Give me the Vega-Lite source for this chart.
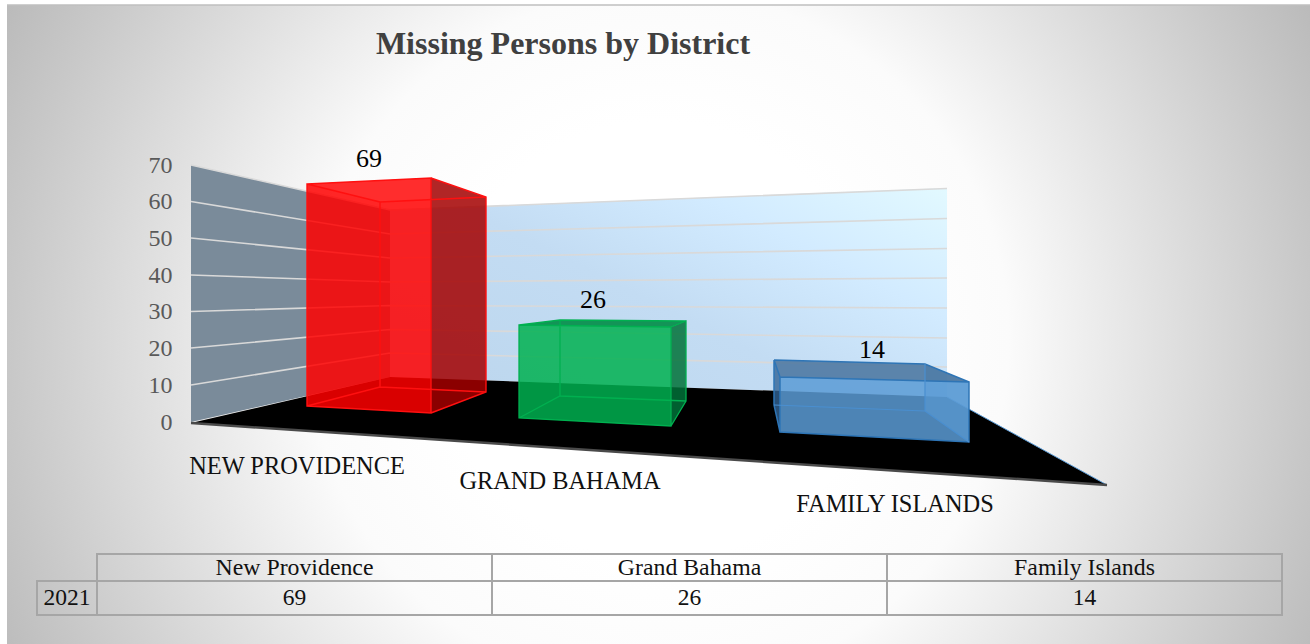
{
"$schema":"https://vega.github.io/schema/vega-lite/v6.json",
"width":1310,"height":644,"padding":0,"autosize":{"type":"none"},
"background":"#ffffff",
"view":{"stroke":null},
"config":{"font":"Liberation Serif","style":{"guide-label":{"font":"Liberation Serif"}}},
"datasets":{
"districts":[
{"district":"New Providence","label":"NEW PROVIDENCE","value":69,"year":"2021"},
{"district":"Grand Bahama","label":"GRAND BAHAMA","value":26,"year":"2021"},
{"district":"Family Islands","label":"FAMILY ISLANDS","value":14,"year":"2021"}],
"frame":[{"element":"chart frame","title":"Missing Persons by District"}],
"stub":[{"year":"2021"}]
},
"resolve":{"scale":{"x":"independent","y":"independent"},"axis":{"x":"independent","y":"independent"}},
"layer":[
{"data":{"name":"frame"},
"encoding":{
"x":{"datum":0,"type":"quantitative","scale":{"domain":[0,1],"range":[191,1107]},"axis":null},
"y":{"datum":0,"type":"quantitative","scale":{"domain":[0,70],"range":[422,165],"nice":false},
"axis":{"title":null,"values":[0,10,20,30,40,50,60,70],"orient":"left","offset":-172,"labelPadding":0,"ticks":false,"domain":false,"grid":false,"labelFontSize":24,"labelColor":"#595959","labelFont":"Liberation Serif","zindex":1}}},
"layer":[
{"mark":{"type":"point","size":4,"opacity":1,"filled":true,"shape":"M-184,-733H1119V570H-184Z","fill":{"gradient":"radial","x1":0.5,"y1":0.5,"r1":0,"x2":0.5,"y2":0.5,"r2":0.56,"stops":[{"offset":0,"color":"#ffffff"},{"offset":0.3,"color":"#ffffff"},{"offset":0.48,"color":"#fbfbfb"},{"offset":0.68,"color":"#e2e2e2"},{"offset":0.89,"color":"#c8c8c8"},{"offset":1,"color":"#bbbbbb"}]}}},
{"mark":{"type":"point","size":4,"opacity":1,"filled":true,"shape":"M-191,-432H1119V-417H-191Z","fill":"#ffffff"}},
{"mark":{"type":"point","size":4,"opacity":1,"filled":false,"shape":"M-184,-417H1119","stroke":"#bfbfbf","strokeWidth":1.5}},
{"mark":{"type":"point","size":4,"opacity":1,"filled":true,"shape":"M0,-257L199,-212L199,-45L0,0Z","fill":"#7a8b9a"}},
{"mark":{"type":"point","size":4,"opacity":1,"filled":true,"shape":"M199,-212L756,-234L756,-25L199,-45Z","fill":{"gradient":"linear","x1":0,"y1":0.75,"x2":1,"y2":0,"stops":[{"offset":0,"color":"#bdd7ee"},{"offset":0.4,"color":"#c3dcf3"},{"offset":0.7,"color":"#d2ebff"},{"offset":1,"color":"#e2f9ff"}]}}},
{"mark":{"type":"point","size":4,"opacity":1,"filled":false,"strokeWidth":1.6,"stroke":"#d9d9d9","shape":"M0,-257L199,-212M0,-220.5L199,-188M0,-184L199,-164M0,-147L199,-140M0,-110.5L199,-116.5M0,-74L199,-92.5M0,-37L199,-69M199,-212L756,-233.5M199,-188L756,-203.5M199,-164L756,-173.5M199,-140L756,-144M199,-116.5L756,-114M199,-92.5L756,-84M199,-69L756,-55"}},
{"mark":{"type":"point","size":4,"opacity":1,"filled":true,"shape":"M0,1L199,-45L756,-25L916,63Z","fill":"#000000"}},
{"mark":{"type":"point","size":4,"opacity":1,"filled":false,"shape":"M756,-25L916,63","stroke":"#5b9bd5","strokeWidth":1}},
{"mark":{"type":"point","size":4,"opacity":1,"filled":false,"shape":"M0,1L916,63","stroke":"#4a4a4a","strokeWidth":2.5}},
{"mark":{"type":"text","dx":372,"dy":-378,"fontSize":32,"fontWeight":"bold","font":"Liberation Serif","color":"#404040"},"encoding":{"text":{"field":"title","type":"nominal"}}}
]},
{"data":{"name":"districts"},"transform":[{"filter":"datum.district==='New Providence'"}],
"encoding":{
"x":{"field":"district","type":"nominal","scale":{"type":"band","domain":["New Providence"],"range":[307,431],"paddingInner":0,"paddingOuter":0},"axis":null},
"y":{"field":"value","type":"quantitative","scale":{"domain":[0,70],"range":[406,180.8],"nice":false},"axis":null}},
"layer":[
{"mark":{"type":"point","size":4,"opacity":1,"filled":true,"shape":"M62,-6L117,13L117,208L62,229Z","fill":"rgba(163,0,0,0.85)"}},
{"mark":{"type":"bar","fill":"rgba(255,0,0,0.85)"}},
{"mark":{"type":"point","size":4,"opacity":1,"filled":true,"shape":"M-62,0L62,-6L62,0ZM-62,222L62,222L62,229Z","fill":"rgba(255,0,0,0.85)"}},
{"mark":{"type":"point","size":4,"opacity":1,"filled":true,"shape":"M-62,0L62,-6L62,15.6L11,18Z","fill":"rgba(255,50,50,0.6)"}},
{"mark":{"type":"point","size":4,"opacity":1,"filled":false,"stroke":"#ff1010","strokeWidth":1.4,"shape":"M-62,0L62,-6L62,229L-62,222ZM62,-6L117,13L117,208L62,229M-62,0L11,18L117,13M11,18L11,203M-62,222L11,203L117,208"}},
{"mark":{"type":"text","dy":-25,"fontSize":26,"font":"Liberation Serif","color":"#000000"},"encoding":{"text":{"field":"value","type":"quantitative"}}},
{"mark":{"type":"text","dx":-72,"dy":61,"fontSize":24.4,"font":"Liberation Serif","color":"#111111"},"encoding":{"y":{"datum":0,"type":"quantitative"},"text":{"field":"label","type":"nominal"}}}
]},
{"data":{"name":"districts"},"transform":[{"filter":"datum.district==='Grand Bahama'"}],
"encoding":{
"x":{"field":"district","type":"nominal","scale":{"type":"band","domain":["Grand Bahama"],"range":[519,671],"paddingInner":0,"paddingOuter":0},"axis":null},
"y":{"field":"value","type":"quantitative","scale":{"domain":[0,70],"range":[418,173],"nice":false},"axis":null}},
"layer":[
{"mark":{"type":"point","size":4,"opacity":1,"filled":true,"shape":"M76,0L91,-6L91,74L76,99Z","fill":"rgba(0,113,56,0.85)"}},
{"mark":{"type":"bar","fill":"rgba(0,176,80,0.85)"}},
{"mark":{"type":"point","size":4,"opacity":1,"filled":true,"shape":"M-76,-2L76,0L-76,0ZM-76,91L76,91L76,99Z","fill":"rgba(0,176,80,0.85)"}},
{"mark":{"type":"point","size":4,"opacity":1,"filled":true,"shape":"M-76,-2L-35,-7L91,-6L76,0Z","fill":"rgba(0,140,70,0.9)"}},
{"mark":{"type":"point","size":4,"opacity":1,"filled":false,"stroke":"#00b050","strokeWidth":1.3,"shape":"M-76,-2L76,0L76,99L-76,91ZM76,0L91,-6L91,74L76,99M-76,-2L-35,-7L91,-6M-35,-7L-35,69M-76,91L-35,69L91,74"}},
{"mark":{"type":"text","dx":-2,"dy":-27,"fontSize":26,"font":"Liberation Serif","color":"#000000"},"encoding":{"text":{"field":"value","type":"quantitative"}}},
{"mark":{"type":"text","dx":-35,"dy":64,"fontSize":24.4,"font":"Liberation Serif","color":"#111111"},"encoding":{"y":{"datum":0,"type":"quantitative"},"text":{"field":"label","type":"nominal"}}}
]},
{"data":{"name":"districts"},"transform":[{"filter":"datum.district==='Family Islands'"}],
"encoding":{
"x":{"field":"district","type":"nominal","scale":{"type":"band","domain":["Family Islands"],"range":[780,969],"paddingInner":0,"paddingOuter":0},"axis":null},
"y":{"field":"value","type":"quantitative","scale":{"domain":[0,70],"range":[432,182],"nice":false},"axis":null}},
"layer":[
{"mark":{"type":"point","size":4,"opacity":1,"filled":true,"shape":"M-100.5,-22L-94.5,-5L-94.5,50L-100.5,23Z","fill":"rgba(50,100,150,0.8)"}},
{"mark":{"type":"point","size":4,"opacity":1,"filled":true,"shape":"M50.5,-18L94.5,0L94.5,60L50.5,29Z","fill":"rgba(91,155,213,0.6)"}},
{"mark":{"type":"bar","fill":"rgba(91,155,213,0.85)"}},
{"mark":{"type":"point","size":4,"opacity":1,"filled":true,"shape":"M-94.5,-5L94.5,0L-94.5,0ZM-94.5,50L94.5,50L94.5,60Z","fill":"rgba(91,155,213,0.85)"}},
{"mark":{"type":"point","size":4,"opacity":1,"filled":true,"shape":"M-100.5,-22L50.5,-18L94.5,0L-94.5,-5Z","fill":"rgba(72,115,157,0.85)"}},
{"mark":{"type":"point","size":4,"opacity":1,"filled":false,"stroke":"#2e75b6","strokeWidth":1.5,"shape":"M-94.5,-5L94.5,0L94.5,60L-94.5,50ZM-100.5,-22L50.5,-18L94.5,0M-100.5,-22L-94.5,-5M-100.5,-22L-100.5,23L-94.5,50"}},
{"mark":{"type":"point","size":4,"opacity":1,"filled":false,"stroke":"#4a8fd0","strokeWidth":1.2,"shape":"M50.5,-18L50.5,29M-100.5,23L50.5,29L94.5,60"}},
{"mark":{"type":"text","dx":-2.5,"dy":-32,"fontSize":26,"font":"Liberation Serif","color":"#000000"},"encoding":{"text":{"field":"value","type":"quantitative"}}},
{"mark":{"type":"text","dx":20.5,"dy":73,"fontSize":24.4,"font":"Liberation Serif","color":"#111111"},"encoding":{"y":{"datum":0,"type":"quantitative"},"text":{"field":"label","type":"nominal"}}}
]},
{"data":{"name":"districts"},
"encoding":{
"x":{"field":"district","type":"nominal","scale":{"type":"band","domain":["New Providence","Grand Bahama","Family Islands"],"range":[97,1282],"paddingInner":0,"paddingOuter":0},"axis":null},
"y":{"datum":"District","type":"nominal","scale":{"type":"band","domain":["District"],"range":[554,581],"paddingInner":0,"paddingOuter":0},"axis":null}},
"layer":[
{"mark":{"type":"rect","fill":"transparent","stroke":"#a6a6a6","strokeWidth":2}},
{"mark":{"type":"text","fontSize":23.8,"font":"Liberation Serif","color":"#111111"},"encoding":{"text":{"field":"district","type":"nominal"}}}
]},
{"data":{"name":"districts"},
"encoding":{
"x":{"field":"district","type":"nominal","scale":{"type":"band","domain":["New Providence","Grand Bahama","Family Islands"],"range":[97,1282],"paddingInner":0,"paddingOuter":0},"axis":null},
"y":{"field":"year","type":"nominal","scale":{"type":"band","domain":["2021"],"range":[581,615],"paddingInner":0,"paddingOuter":0},"axis":null}},
"layer":[
{"mark":{"type":"rect","fill":"transparent","stroke":"#a6a6a6","strokeWidth":2}},
{"mark":{"type":"text","fontSize":23.5,"font":"Liberation Serif","color":"#111111"},"encoding":{"text":{"field":"value","type":"quantitative"}}}
]},
{"data":{"name":"stub"},
"encoding":{
"x":{"field":"year","type":"nominal","scale":{"type":"band","domain":["2021"],"range":[37,97],"paddingInner":0,"paddingOuter":0},"axis":null},
"y":{"field":"year","type":"nominal","scale":{"type":"band","domain":["2021"],"range":[581,615],"paddingInner":0,"paddingOuter":0},"axis":null}},
"layer":[
{"mark":{"type":"rect","fill":"transparent","stroke":"#a6a6a6","strokeWidth":2}},
{"mark":{"type":"text","fontSize":23.5,"font":"Liberation Serif","color":"#111111"},"encoding":{"text":{"field":"year","type":"nominal"}}}
]}
]
}
